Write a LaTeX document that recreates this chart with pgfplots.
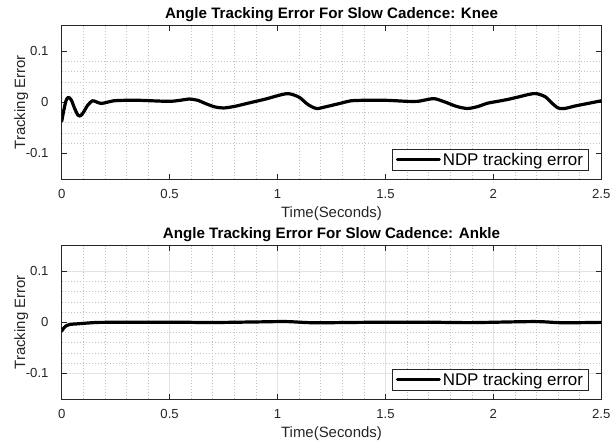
\documentclass[border=0pt]{standalone}
\usepackage{pgfplots}
\pgfplotsset{compat=1.18}
\usepackage{fontspec}
\setmainfont{Liberation Sans}
\definecolor{axc}{HTML}{262626}
\definecolor{majg}{HTML}{E3E3E3}
\definecolor{ming}{HTML}{C4C4C4}

\pgfplotsset{
  matax/.style={
    scale only axis, width=539.6bp, height=153.3bp, anchor=south west,
    xmin=0, xmax=2.5, ymin=-0.15, ymax=0.15,
    xtick={0,0.5,1,1.5,2,2.5}, xticklabels={0,0.5,1,1.5,2,2.5},
    ytick={-0.1,0,0.1}, yticklabels={-0.1,0,0.1},
    minor x tick num=4, minor y tick num=4,
    tick align=inside, major tick length=5bp, minor tick length=0pt,
    tick style={color=axc, line width=0.8bp},
    axis line style={color=axc, line width=0.9bp},
    xminorgrids, yminorgrids,
    minor grid style={color=ming, line width=0.6bp, dash pattern=on 1bp off 2bp},
    major grid style={color=majg, line width=0.8bp},
    /pgf/number format/assume math mode=true,
    ticklabel style={font=\fontsize{13.2}{15}\selectfont, text=axc, inner sep=0pt},
    xticklabel style={anchor=base, yshift=-20bp},
    yticklabel style={anchor=east, xshift=-13bp},
    xlabel={Time(Seconds)},
    ylabel={Tracking Error},
    label style={font=\fontsize{15}{17}\selectfont, text=axc, inner sep=0pt},
    xlabel style={at={(axis description cs:0.5,-0.2544)}, anchor=base},
    ylabel style={at={(axis description cs:-0.068,0.5)}, anchor=base, rotate=0},
    every axis title shift=0pt,
    title style={at={(axis description cs:0.5,1.044)}, anchor=base, inner sep=0pt,
      font=\fontsize{15.2}{17}\selectfont\bfseries, text=black},
    legend style={at={(axis description cs:0.9759,0.0522)}, anchor=south east,
      draw=axc, line width=0.6bp, fill=white, inner xsep=3bp, inner ysep=2bp,
      font=\fontsize{17}{19}\selectfont, text=black,
      /tikz/every even column/.append style={column sep=3bp}},
    legend cell align=left,
    legend image code/.code={\draw[line width=3bp] (0bp,0bp) -- (42bp,0bp);},
  },
  curve/.style={black, line width=3.2bp, smooth, tension=0.5, line join=round, line cap=round},
}

\pgfplotstableread{
t y
0 -0.037
0.01 -0.015
0.02 0.003
0.031 0.0098
0.045 0.004
0.06 -0.012
0.075 -0.025
0.085 -0.027
0.10 -0.02
0.12 -0.006
0.142 0.003
0.16 0.001
0.18 -0.002
0.20 -0.001
0.24 0.003
0.30 0.004
0.36 0.004
0.42 0.003
0.50 0.002
0.55 0.004
0.59 0.0065
0.63 0.004
0.67 -0.003
0.71 -0.009
0.75 -0.011
0.80 -0.008
0.85 -0.003
0.90 0.002
0.95 0.007
1.00 0.013
1.05 0.017
1.10 0.010
1.14 -0.004
1.18 -0.012
1.22 -0.009
1.26 -0.005
1.30 -0.001
1.34 0.003
1.40 0.004
1.50 0.004
1.60 0.002
1.65 0.002
1.70 0.006
1.73 0.007
1.78 0.000
1.83 -0.008
1.88 -0.012
1.93 -0.008
1.97 -0.002
2.02 0.002
2.07 0.006
2.12 0.011
2.17 0.016
2.20 0.017
2.24 0.011
2.27 -0.001
2.30 -0.011
2.33 -0.012
2.38 -0.007
2.44 -0.002
2.50 0.003
}\knee

\pgfplotstableread{
t y
0 -0.017
0.01 -0.011
0.02 -0.007
0.04 -0.004
0.07 -0.003
0.10 -0.002
0.15 -0.0005
0.20 0
0.50 0.0003
0.70 -0.0003
0.90 0.0008
1.04 0.0015
1.17 -0.0008
1.40 0
1.70 0.0002
1.90 -0.0005
2.19 0.0015
2.32 -0.0008
2.50 0
}\ankle

\begin{document}
\begin{tikzpicture}
\path[use as bounding box] (0bp,0bp) rectangle (612bp,444bp);
\begin{axis}[matax, at={(61.7bp,265bp)},
  title={Angle Tracking Error For Slow Cadence: Knee}]
\addplot[curve] table[x=t,y=y] {\knee};
\addlegendentry{NDP tracking error}
\end{axis}
\begin{axis}[matax, at={(61.7bp,45bp)}, xmajorgrids, ymajorgrids,
  title={Angle Tracking Error For Slow Cadence: Ankle}]
\addplot[curve] table[x=t,y=y] {\ankle};
\addlegendentry{NDP tracking error}
\end{axis}
\end{tikzpicture}
\end{document}
